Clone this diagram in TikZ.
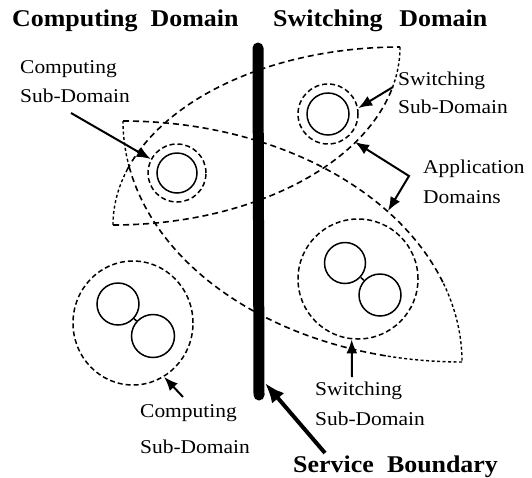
\documentclass[tikz,border=0pt]{standalone}
\usepackage{fontspec}
\setmainfont{Liberation Serif}
\newfontfamily\labelfont[FakeStretch=1.1]{Liberation Serif}
\newfontfamily\titlefont[FakeStretch=1.08]{Liberation Serif}
\usetikzlibrary{arrows.meta,shapes.geometric}
\tikzset{
  coarse/.style={line width=1.6pt, dash pattern=on 6pt off 4pt},
  fine/.style={line width=1.4pt, dash pattern=on 3pt off 2.5pt},
  inner/.style={circle, draw, line width=1.5pt, inner sep=0pt},
  outer/.style={draw, line width=1.5pt, dash pattern=on 5pt off 3pt, inner sep=0pt},
  lbl/.style={anchor=base west, inner sep=0pt, font=\labelfont\fontsize{19.5}{22}\selectfont},
  ttl/.style={anchor=base west, inner sep=0pt, font=\titlefont\bfseries\fontsize{24}{28}\selectfont},
  sbt/.style={anchor=base west, inner sep=0pt, font=\titlefont\bfseries\fontsize{24}{28}\selectfont},
  arr/.style={line width=2pt, -{Latex[length=14pt,width=11pt]}},
}
\begin{document}
\begin{tikzpicture}[x=1pt,y=-1pt]
\useasboundingbox (0,0) rectangle (532,477);
% titles
\node[ttl] (tcomp) at (12,26) {Computing\hspace{0.55em}Domain};
\node[ttl] (tswit) at (273,26) {Switching\hspace{0.7em}Domain};
% service boundary line
\coordinate (sbTop) at (258,48);
\coordinate (sbBot) at (259,395);
\draw[line width=11pt, line cap=round] (sbTop) -- (sbBot);
% application domain A (upper)
\draw[fine] plot[domain=180:198, samples=20, variable=\t] ({400+287*cos(\t)},{225+178*sin(\t)});
\draw[coarse] plot[domain=198:270, samples=70, variable=\t] ({400+287*cos(\t)},{225+178*sin(\t)});
\draw[fine] plot[domain=0:14, samples=15, variable=\t] ({113+287*cos(\t)},{47+178*sin(\t)});
\draw[coarse] plot[domain=14:90, samples=70, variable=\t] ({113+287*cos(\t)},{47+178*sin(\t)});
% application domain B (lower)
\draw[coarse] plot[domain=270:341, samples=70, variable=\t] ({123+339*cos(\t)},{362+241*sin(\t)});
\draw[fine] plot[domain=341:360, samples=20, variable=\t] ({123+339*cos(\t)},{362+241*sin(\t)});
\draw[fine] plot[domain=90:103, samples=15, variable=\t] ({462+339*cos(\t)},{121+241*sin(\t)});
\draw[coarse] plot[domain=103:169, samples=70, variable=\t] ({462+339*cos(\t)},{121+241*sin(\t)});
\draw[fine] plot[domain=169:180, samples=15, variable=\t] ({462+339*cos(\t)},{121+241*sin(\t)});
% computing sub-domain (upper)
\node[inner, minimum size=40pt] (csi) at (177,173) {};
\node[outer, circle, minimum size=58pt] (cso) at (177,173) {};
% switching sub-domain (upper)
\node[inner, minimum size=42pt] (ssi) at (328,114) {};
\node[outer, circle, minimum size=60pt] (sso) at (328,114) {};
% switching sub-domain (lower)
\node[inner, minimum size=41pt] (ss1) at (345,263) {};
\node[inner, minimum size=42pt] (ss2) at (380,295) {};
\draw[line width=1.5pt] (ss1) -- (ss2);
\node[outer, circle, minimum size=120pt] (sso2) at (358,279) {};
% computing sub-domain (lower)
\node[inner, minimum size=42pt] (cs1) at (118,304) {};
\node[inner, minimum size=43pt] (cs2) at (153,336) {};
\draw[line width=1.5pt] (cs1) -- (cs2);
\node[outer, ellipse, minimum width=120pt, minimum height=124pt] (cso2) at (133,323) {};
% labels
\node[lbl] (l1a) at (20,73) {Computing};
\node[lbl] (l1b) at (20,102) {Sub-Domain};
\node[lbl] (l2a) at (398,85) {Switching};
\node[lbl] (l2b) at (398,113) {Sub-Domain};
\node[lbl] (l3a) at (423,173) {Application};
\node[lbl] (l3b) at (423,203) {Domains};
\node[lbl] (l4a) at (315,395) {Switching};
\node[lbl] (l4b) at (315,425) {Sub-Domain};
\node[lbl] (l5a) at (140,417) {Computing};
\node[lbl] (l5b) at (140,453) {Sub-Domain};
\node[sbt] (lsb) at (293,472) {Service\hspace{0.55em}Boundary};
% arrows
\coordinate (cArrTail) at (71,113);
\draw[arr] (cArrTail) -- (cso.152);
\coordinate (sArrTail) at (393,87);
\draw[arr] (sArrTail) -- (sso.11);
\coordinate (appA) at (355,142);
\coordinate (appC) at (409,176);
\coordinate (appB) at (388,211);
\draw[line width=2pt, {Latex[length=14pt,width=11pt]}-{Latex[length=14pt,width=11pt]}] (appA) -- (appC) -- (appB);
\coordinate (ssArrTail) at (352,377);
\draw[arr] (ssArrTail) -- (sso2.264);
\coordinate (csArrTail) at (183,397);
\draw[arr] (csArrTail) -- (cso2.300);
\coordinate (sbArrTail) at (325,453);
\coordinate (sbHit) at (265,383);
\draw[line width=4pt, -{Latex[length=20pt,width=16pt]}] (sbArrTail) -- (sbHit);
\end{tikzpicture}
\end{document}
